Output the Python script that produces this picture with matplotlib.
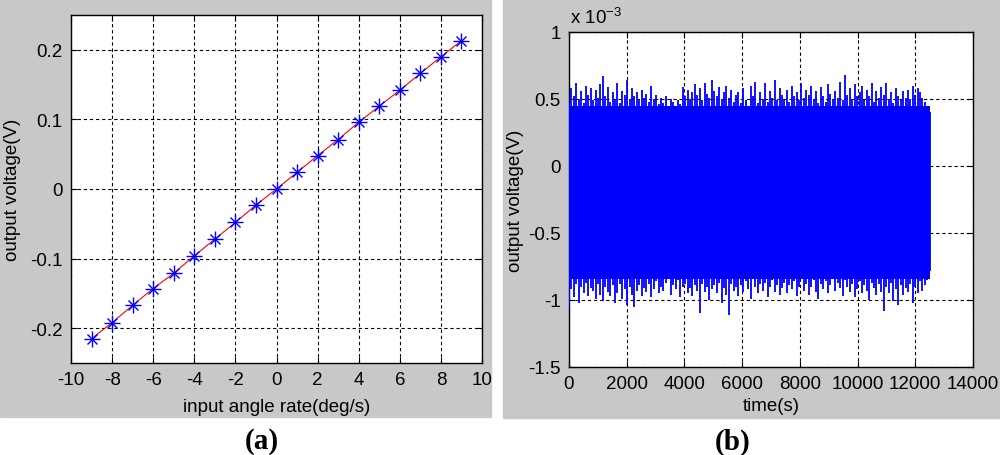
import numpy as np
import matplotlib
matplotlib.use("Agg")
import matplotlib.pyplot as plt
from matplotlib.patches import Rectangle

plt.rcParams['font.family'] = ['Liberation Sans', 'DejaVu Sans']
plt.rcParams['axes.unicode_minus'] = False

# ---------------- data: panel (a) ----------------
rate_deg_s = [-9, -8, -7, -6, -5, -4, -3, -2, -1, 0, 1, 2, 3, 4, 5, 6, 7, 8, 9]
voltage_a = [-0.215, -0.192, -0.167, -0.143, -0.121, -0.096, -0.072, -0.048, -0.023, 0.0,
             0.024, 0.048, 0.071, 0.096, 0.119, 0.142, 0.166, 0.190, 0.213]
xticks_a = [-10, -8, -6, -4, -2, 0, 2, 4, 6, 8, 10]
yticks_a = [-0.2, -0.1, 0, 0.1, 0.2]

# ---------------- data: panel (b) (envelope of noise, units 1e-3 V) ----------------
noise_upper_mV = [
    0.48, 0.58, 0.52, 0.62, 0.50, 0.56, 0.47, 0.60, 0.53, 0.58,
    0.49, 0.57, 0.51, 0.61, 0.67, 0.52, 0.59, 0.48, 0.55, 0.50,
    0.62, 0.47, 0.56, 0.53, 0.64, 0.50, 0.58, 0.52, 0.55, 0.49,
    0.57, 0.51, 0.54, 0.48, 0.60, 0.50, 0.53, 0.46, 0.51, 0.47,
    0.52, 0.45, 0.50, 0.48, 0.43, 0.49, 0.46, 0.59, 0.52, 0.57,
    0.50, 0.55, 0.61, 0.53, 0.58, 0.49, 0.62, 0.54, 0.51, 0.64,
    0.56, 0.52, 0.59, 0.50, 0.55, 0.60, 0.51, 0.57, 0.48, 0.53,
    0.55, 0.47, 0.58, 0.49, 0.45, 0.60, 0.52, 0.63, 0.47, 0.55,
    0.50, 0.62, 0.48, 0.56, 0.51, 0.64, 0.49, 0.58, 0.53, 0.50,
    0.57, 0.48, 0.60, 0.52, 0.55, 0.49, 0.62, 0.51, 0.57, 0.53,
    0.60, 0.50, 0.56, 0.47, 0.59, 0.52, 0.48, 0.61, 0.54, 0.50,
    0.56, 0.51, 0.63, 0.49, 0.68, 0.53, 0.58, 0.50, 0.61, 0.52,
    0.55, 0.60, 0.49, 0.57, 0.52, 0.62, 0.48, 0.56, 0.51, 0.59,
    0.53, 0.62, 0.50, 0.55, 0.47, 0.58, 0.52, 0.49, 0.56, 0.51,
    0.57, 0.50, 0.60, 0.53, 0.58, 0.55, 0.51, 0.48, 0.44, 0.40,
]
noise_lower_mV = [
    -1.05, -0.92, -0.98, -0.88, -1.02, -0.90, -0.95, -0.87, -0.97, -0.91,
    -0.93, -0.99, -0.88, -0.96, -1.01, -0.90, -0.94, -0.97, -0.89, -1.02,
    -0.95, -0.88, -0.99, -0.92, -1.04, -0.90, -0.96, -1.05, -0.93, -0.89,
    -0.97, -0.91, -0.94, -0.88, -0.98, -0.92, -0.86, -0.95, -0.90, -0.93,
    -0.87, -0.84, -0.96, -0.89, -0.92, -0.85, -0.98, -0.90, -0.88, -0.95,
    -0.91, -0.97, -0.89, -0.93, -1.10, -0.88, -0.94, -0.90, -1.00, -0.92,
    -0.89, -0.95, -0.87, -1.02, -0.91, -0.96, -1.11, -0.88, -0.93, -0.90,
    -0.97, -0.89, -0.94, -0.86, -0.92, -0.99, -0.78, -0.90, -0.95, -0.88,
    -0.93, -0.87, -0.98, -0.90, -0.85, -0.94, -0.89, -0.96, -0.91, -0.87,
    -0.95, -0.89, -0.92, -0.86, -0.97, -0.90, -0.84, -0.93, -0.88, -0.96,
    -0.90, -0.85, -0.94, -0.99, -0.88, -0.92, -0.86, -0.95, -0.89, -0.83,
    -0.93, -0.87, -0.91, -0.97, -0.85, -0.90, -0.94, -0.88, -0.98, -0.92,
    -0.86, -0.95, -0.89, -0.93, -1.00, -0.87, -0.91, -0.96, -0.88, -0.94,
    -1.08, -0.90, -0.95, -0.87, -1.01, -0.92, -1.04, -0.89, -0.96, -0.91,
    -0.94, -0.88, -1.02, -0.90, -0.95, -0.86, -0.93, -0.89, -0.85, -0.78,
]
time_end_s = 12500
time_s = np.linspace(0, time_end_s, len(noise_upper_mV))
xticks_b = [0, 2000, 4000, 6000, 8000, 10000, 12000, 14000]
yticks_b = [-1.5, -1, -0.5, 0, 0.5, 1]

# ---------------- figure ----------------
fig = plt.figure(figsize=(10, 4.56), dpi=100)
gray = '#c8c8c8'
fig.patches.append(Rectangle((0.0, 1 - 418 / 456), 0.491, 418 / 456,
                             transform=fig.transFigure, color=gray, zorder=-10))
fig.patches.append(Rectangle((0.503, 1 - 419 / 456), 0.497, 419 / 456,
                             transform=fig.transFigure, color=gray, zorder=-10))

FS = 13.5
grid_kw = dict(color='black', linestyle=(0, (3, 2.5)), linewidth=0.8)


def style(ax):
    ax.set_facecolor('white')
    ax.set_axisbelow(True)
    ax.grid(True, **grid_kw)
    ax.tick_params(direction='in', top=True, right=True, length=4,
                   labelsize=FS, pad=6, width=0.8)
    for s in ax.spines.values():
        s.set_linewidth(1.0)


def fmt(v):
    return ('%g' % v)


# panel (a)
axa = fig.add_axes([0.071, 1 - 364 / 456, 0.411, 348 / 456])
style(axa)
axa.plot(rate_deg_s, voltage_a, color='red', linewidth=0.8, zorder=3)
axa.plot(rate_deg_s, voltage_a, linestyle='none', marker='+', markersize=11,
         markeredgewidth=1.0, color='blue', zorder=4)
axa.plot(rate_deg_s, voltage_a, linestyle='none', marker='x', markersize=7,
         markeredgewidth=1.0, color='blue', zorder=4)
axa.set_xlim(-10, 10)
axa.set_ylim(-0.25, 0.25)
axa.set_xticks(xticks_a)
axa.set_xticklabels([fmt(v) for v in xticks_a])
axa.set_yticks(yticks_a)
axa.set_yticklabels([fmt(v) for v in yticks_a])
axa.set_xlabel('input angle rate(deg/s)', fontsize=FS, va='center')
axa.set_ylabel('output voltage(V)', fontsize=FS, va='center')
axa.xaxis.set_label_coords(0.5, (364 - 407) / 348)
axa.yaxis.set_label_coords((12 - 71) / 411, 0.5)

# panel (b)
axb = fig.add_axes([0.569, 1 - 368 / 456, 0.404, 335 / 456])
style(axb)
axb.vlines(time_s, noise_lower_mV, noise_upper_mV, color='blue',
           linewidth=1.3, zorder=3)
axb.fill_between(time_s, -0.84, 0.45, color='blue', linewidth=0, zorder=3)
axb.set_xlim(0, 14000)
axb.set_ylim(-1.5, 1.0)
axb.set_xticks(xticks_b)
axb.set_xticklabels([fmt(v) for v in xticks_b])
axb.set_yticks(yticks_b)
axb.set_yticklabels([fmt(v) for v in yticks_b])
axb.set_xlabel('time(s)', fontsize=FS, va='center')
axb.set_ylabel('output voltage(V)', fontsize=FS, va='center')
axb.xaxis.set_label_coords(0.5, (368 - 407) / 335)
axb.yaxis.set_label_coords((515 - 569) / 404, 0.5)
fig.text(0.570, 1 - 18 / 456, r'x 10$^{\mathregular{-3}}$', fontsize=FS,
         ha='left', va='center')

# panel captions
cap_kw = dict(fontsize=21, fontweight='bold', family=['Liberation Serif', 'DejaVu Serif'],
              ha='center', va='center')
fig.text(0.262, 1 - 442 / 456, '(a)', **cap_kw)
fig.text(0.733, 1 - 442 / 456, '(b)', **cap_kw)

fig.savefig('out.png', dpi=100)
